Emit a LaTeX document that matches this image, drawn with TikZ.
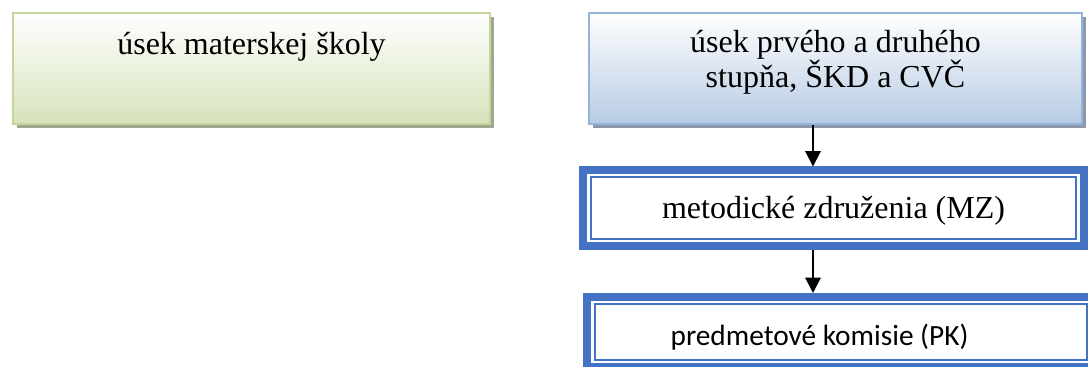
\documentclass[tikz,border=0pt]{standalone}
\usepackage{fontspec}
\setmainfont{Liberation Serif}
\newfontfamily\pksans{Carlito}
\usetikzlibrary{shadows,arrows.meta,calc}
\definecolor{wordblue}{HTML}{4472C4}
\definecolor{grnborder}{HTML}{C3D69B}
\definecolor{grnfill}{HTML}{D5E3BA}
\definecolor{grnshadow}{HTML}{A0A98D}
\definecolor{bluborder}{HTML}{95B3D7}
\definecolor{blufill}{HTML}{B7CBE4}
\definecolor{blushadow}{HTML}{8C99AD}
\tikzset{
  serifbig/.style={font=\fontsize{24}{26.5}\selectfont},
  sansbig/.style={font=\pksans\fontsize{22}{26}\selectfont},
  greenbox/.style={draw=grnborder, line width=1.5pt, top color=white, bottom color=grnfill,
    general shadow={shadow xshift=3pt, shadow yshift=-3pt, fill=grnshadow}},
  bluebox/.style={draw=bluborder, line width=1.5pt, top color=white, bottom color=blufill,
    general shadow={shadow xshift=3pt, shadow yshift=-3pt, fill=blushadow}},
  thickbox/.style={draw=wordblue, line width=6pt, fill=white},
  thinline/.style={draw=wordblue, line width=1.5pt},
  arr/.style={draw=black, line width=1.5pt, -{Triangle[length=11.5pt,width=11.5pt]}}
}
\begin{document}
\begin{tikzpicture}[x=0.75pt,y=-0.75pt]
\useasboundingbox (0,0) rectangle (1088,367);
\clip (0,0) rectangle (1088,367);

% top boxes
\node[greenbox, minimum width=357.75pt, minimum height=83.25pt] (ms) at (251.5,68.5) {};
\node[serifbig, anchor=base] (mstext) at (251.5,55) {úsek materskej školy};

\node[bluebox, minimum width=369.75pt, minimum height=83.25pt] (ps) at (835.5,68.5) {};
\node[serifbig, anchor=base, align=center] (pstext) at (835.5,88) {úsek prvého a druhého\\stupňa, ŠKD a CVČ};

% MZ
\node[thickbox, minimum width=375.75pt, minimum height=56.25pt] (mz) at (833.5,208) {};
\draw[thinline] ($(mz.north west)+(12,11)$) rectangle ($(mz.south east)+(-12,-11)$);
\node[serifbig, anchor=base] (mztext) at (833.5,219) {metodické združenia (MZ)};

% PK
\node[thickbox, minimum width=381pt, minimum height=52.5pt] (pk) at (841,332) {};
\draw[thinline] ($(pk.north west)+(12,11)$) rectangle ($(pk.south east)+(-12,-11)$);
\node[sansbig, anchor=base] (pktext) at (819.5,345) {predmetové komisie (PK)};

% arrows
\coordinate (ax) at (813,0);
\draw[arr] (ps.south -| ax) -- (mz.north -| ax);
\draw[arr] (mz.south -| ax) -- (pk.north -| ax);
\end{tikzpicture}
\end{document}
